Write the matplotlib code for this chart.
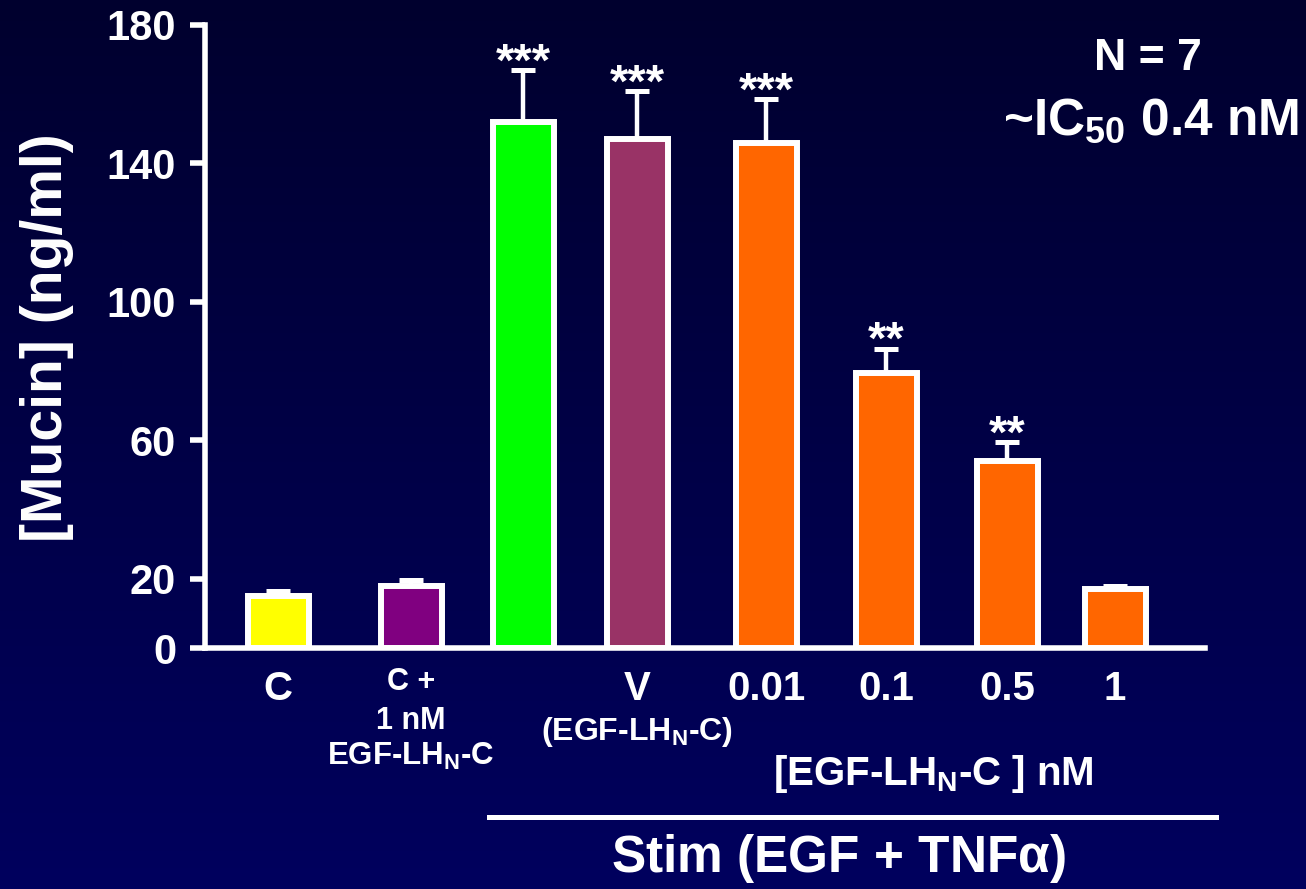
import numpy as np
import matplotlib
matplotlib.use("Agg")
import matplotlib.pyplot as plt
from matplotlib.colors import LinearSegmentedColormap
from matplotlib.transforms import blended_transform_factory

# Mucin secretion per treatment group
groups = ["C", "C + 1 nM EGF-LHN-C", "Stim", "V", "0.01", "0.1", "0.5", "1"]
mucin = [15.0, 18.0, 152.0, 147.0, 146.0, 79.5, 54.0, 17.0]
sem = [1.4, 1.7, 15.0, 14.0, 12.5, 7.0, 5.5, 1.0]
stars = ["", "", "***", "***", "***", "**", "**", ""]
bar_colors = ["#ffff00", "#800080", "#00ff00", "#993366",
              "#ff6600", "#ff6600", "#ff6600", "#ff6600"]
tick_labels = ["C", "", "", "V", "0.01", "0.1", "0.5", "1"]
yticks = [0, 20, 60, 100, 140, 180]

# bar centres along the x axis (axis spans 0..1000)
xpos = [73, 206, 318, 432, 561, 681, 802, 910]
bar_width = 61

FAM = ["Liberation Sans", "DejaVu Sans"]
plt.rcParams["font.family"] = FAM
plt.rcParams["font.weight"] = "bold"

W, H = 1306, 889
fig = plt.figure(figsize=(W / 100, H / 100), dpi=100)

# dark navy vertical gradient backdrop
bg = fig.add_axes([0, 0, 1, 1], zorder=-10)
grad = np.linspace(0, 1, 256).reshape(-1, 1)
cmap = LinearSegmentedColormap.from_list("navy", ["#00002e", "#00005e"])
bg.imshow(grad, aspect="auto", cmap=cmap, extent=[0, 1, 0, 1], origin="upper")
bg.axis("off")

ax = fig.add_axes([205 / W, (H - 648) / H, 1000 / W, 623 / H])
ax.patch.set_alpha(0)

ax.bar(xpos, mucin, width=bar_width, color=bar_colors, edgecolor="white",
       linewidth=4.3, zorder=3)
ax.errorbar(xpos, mucin, yerr=[np.zeros(len(sem)), sem], fmt="none",
            ecolor="white", elinewidth=3.2, capsize=8.6, capthick=3.6, zorder=2)

for x, y, e, s in zip(xpos, mucin, sem, stars):
    if s:
        ax.annotate(s, (x, y + e), xytext=(0, -4), textcoords="offset points",
                    ha="center", va="baseline", color="white", fontsize=34,
                    fontweight="bold")

ax.set_xlim(0, 1000)
ax.set_ylim(0, 180)
ax.set_yticks(yticks)
ax.set_xticks([])
for side in ("top", "right"):
    ax.spines[side].set_visible(False)
for side in ("left", "bottom"):
    ax.spines[side].set_color("white")
    ax.spines[side].set_linewidth(4)
    ax.spines[side].set_capstyle("projecting")
ax.tick_params(axis="y", direction="out", length=10.8, width=4, color="white",
               labelcolor="white", labelsize=30, pad=10)
for lab in ax.get_yticklabels():
    lab.set_fontweight("bold")

# y-axis title
fig.text(47 / W, 1 - 338 / H, "[Mucin] (ng/ml)", rotation=90, ha="center",
         va="center", rotation_mode="anchor", color="white", fontsize=41,
         fontweight="bold")

trans = blended_transform_factory(ax.transData, fig.transFigure)


def label(x, ypix, s, size):
    ax.text(x, 1 - ypix / H, s, transform=trans, ha="center", va="baseline",
            color="white", fontsize=size, fontweight="bold", clip_on=False)


for x, s in zip(xpos, tick_labels):
    if s:
        label(x, 700, s, 29)

label(xpos[1], 690, "C +", 22)
label(xpos[1], 729, "1 nM", 22)
label(xpos[1], 765, r"EGF-LH$_\mathregular{N}$-C", 22.5)
label(xpos[3], 740, r"(EGF-LH$_\mathregular{N}$-C)", 23)


def ftext(xpix, ypix, s, size):
    fig.text(xpix / W, 1 - ypix / H, s, ha="center", va="baseline",
             color="white", fontsize=size, fontweight="bold")


ftext(933, 785, r"[EGF-LH$_\mathregular{N}$-C ] nM", 29)
ftext(838, 872, r"Stim (EGF + TNF$\mathregular{\alpha}$)", 37)
ftext(1148, 70, "N = 7", 32)
ftext(1151, 135, r"~IC$_\mathregular{50}$ 0.4 nM", 37)

# bracket line under the stimulated groups
fig.add_artist(plt.Line2D([489 / W, 1216 / W], [1 - 817 / H, 1 - 817 / H],
                          color="white", linewidth=3.6,
                          transform=fig.transFigure))

fig.savefig("out.png", dpi=100)
